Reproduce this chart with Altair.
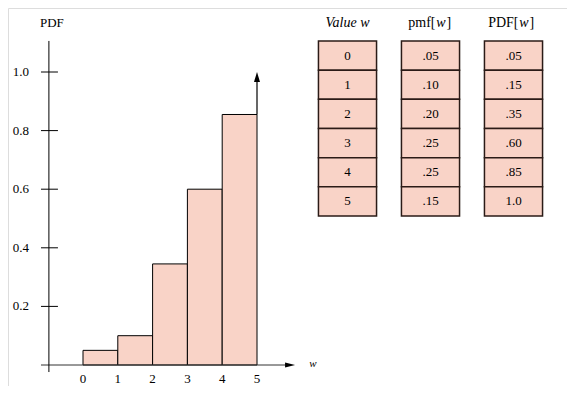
import altair as alt
import pandas as pd

# ---- data ----
w_values = [0, 1, 2, 3, 4, 5]
bar_heights = [0.05, 0.10, 0.345, 0.60, 0.855]
arrow_top = 1.0
y_ticks = [0.2, 0.4, 0.6, 0.8, 1.0]
y_tick_labels = ["0.2", "0.4", "0.6", "0.8", "1.0"]
x_tick_labels = ["0", "1", "2", "3", "4", "5"]
value_labels = ["0", "1", "2", "3", "4", "5"]
pmf_labels = [".05", ".10", ".20", ".25", ".25", ".15"]
pdf_labels = [".05", ".15", ".35", ".60", ".85", "1.0"]
header_prefix = ["pmf[", "PDF["]

W, H = 559, 378
FONT = "Liberation Serif"
FILL = "#f9d3c7"
EDGE = "#2b1b17"

# plot scales (w units / PDF units)
xs = alt.Scale(domain=[-75 / 34.8, (W - 75) / 34.8], nice=False, zero=False)
ys = alt.Scale(domain=[-(H - 357) / 293, 357 / 293], nice=False, zero=False)
# table scales (column / row index)
tx = alt.Scale(domain=[-339.5 / 83, (W - 339.5) / 83], nice=False, zero=False)
ty = alt.Scale(domain=[-33 / 29.17, (H - 33) / 29.17], nice=False, zero=False, reverse=True)


def X(f):
    return alt.X(f, type="quantitative", scale=xs, axis=None)


def Y(f):
    return alt.Y(f, type="quantitative", scale=ys, axis=None)


def TX(f):
    return alt.X(f, type="quantitative", scale=tx, axis=None)


def TY(f):
    return alt.Y(f, type="quantitative", scale=ty, axis=None)


bars_df = pd.DataFrame({
    "x": w_values[:5],
    "x2": [w + 1 for w in w_values[:5]],
    "y0": [0] * 5,
    "h": bar_heights,
})
bars = alt.Chart(bars_df).mark_rect(fill=FILL, stroke="black", strokeWidth=1).encode(
    x=X("x"), x2="x2", y=Y("y0"), y2="h")

# vertical arrow at w = 5
arr_df = pd.DataFrame({"x": [w_values[-1]], "y": [bar_heights[-1]], "y2": [arrow_top - 0.02]})
arr_line = alt.Chart(arr_df).mark_rule(color="black", strokeWidth=1.2).encode(
    x=X("x"), y=Y("y"), y2="y2")
arr_head = alt.Chart(pd.DataFrame({"x": [w_values[-1]], "y": [arrow_top - 0.017]})).mark_point(
    shape="M0,-1L-0.6,1L0.6,1Z", size=100, filled=True, color="black", opacity=1).encode(
    x=X("x"), y=Y("y"))

# x axis with arrow
xaxis = alt.Chart(pd.DataFrame({"x": [-1.207], "x2": [5.9], "y": [0]})).mark_rule(
    color="#333", strokeWidth=1).encode(x=X("x"), x2="x2", y=Y("y"))
xhead = alt.Chart(pd.DataFrame({"x": [5.95], "y": [0]})).mark_point(
    shape="M1,0L-1,-0.5L-1,0.5Z", size=100, filled=True, color="black", opacity=1).encode(
    x=X("x"), y=Y("y"))

# y axis
yaxis = alt.Chart(pd.DataFrame({"x": [-0.98], "y": [-0.024], "y2": [1.106]})).mark_rule(
    color="black", strokeWidth=1).encode(x=X("x"), y=Y("y"), y2="y2")
ticks_df = pd.DataFrame({"y": y_ticks, "x": [-1.207] * 5, "x2": [-0.72] * 5, "lab": y_tick_labels})
yticks = alt.Chart(ticks_df).mark_rule(color="black", strokeWidth=1).encode(
    x=X("x"), x2="x2", y=Y("y"))
ylabels = alt.Chart(ticks_df).mark_text(
    font=FONT, fontSize=13, align="right", baseline="middle", dx=-12, color="black").encode(
    x=X("x"), y=Y("y"), text="lab:N")

xlab_df = pd.DataFrame({"x": w_values, "y": [-0.062] * 6, "lab": x_tick_labels})
xlabels = alt.Chart(xlab_df).mark_text(
    font=FONT, fontSize=13, align="center", baseline="alphabetic", color="black").encode(
    x=X("x"), y=Y("y"), text="lab:N")

titles_df = pd.DataFrame({"x": [-0.98], "y": [1.153], "lab": ["PDF"]})
ytitle = alt.Chart(titles_df).mark_text(
    font=FONT, fontSize=13, align="center", baseline="alphabetic", dx=3, color="black").encode(
    x=X("x"), y=Y("y"), text="lab:N")
wtitle = alt.Chart(pd.DataFrame({"x": [6.61], "y": [-0.007], "lab": ["w"]})).mark_text(
    font=FONT, fontSize=11, fontStyle="italic", align="center", baseline="alphabetic",
    color="black").encode(x=X("x"), y=Y("y"), text="lab:N")

# ---- table ----
rows = []
for c, labs in enumerate([value_labels, pmf_labels, pdf_labels]):
    for r, lab in enumerate(labs):
        rows.append({"c": c, "cl": c - 0.35, "cr": c + 0.35, "r": r, "r2": r + 1,
                     "rm": r + 0.5, "lab": lab})
cells_df = pd.DataFrame(rows)
cells = alt.Chart(cells_df).mark_rect(fill=FILL, stroke=EDGE, strokeWidth=1.5).encode(
    x=TX("cl"), x2="cr", y=TY("r"), y2="r2")
cell_text = alt.Chart(cells_df).mark_text(
    font=FONT, fontSize=13, align="center", baseline="middle", color="black").encode(
    x=TX("c"), y=TY("rm"), text="lab:N")

h0 = alt.Chart(pd.DataFrame({"c": [0], "r": [-0.48], "lab": ["Value w"]})).mark_text(
    font=FONT, fontSize=14, fontStyle="italic", align="center", baseline="alphabetic",
    color="black").encode(x=TX("c"), y=TY("r"), text="lab:N")
hdr_df = pd.DataFrame({"c": [1, 2], "r": [-0.48, -0.48], "pre": header_prefix,
                       "w": ["w", "w"], "post": ["]", "]"]})
h_pre = alt.Chart(hdr_df).mark_text(
    font=FONT, fontSize=14, align="right", baseline="alphabetic", dx=5, color="black").encode(
    x=TX("c"), y=TY("r"), text="pre:N")
h_w = alt.Chart(hdr_df).mark_text(
    font=FONT, fontSize=14, fontStyle="italic", align="center", baseline="alphabetic",
    dx=10.5, color="black").encode(x=TX("c"), y=TY("r"), text="w:N")
h_post = alt.Chart(hdr_df).mark_text(
    font=FONT, fontSize=14, align="left", baseline="alphabetic", dx=16, color="black").encode(
    x=TX("c"), y=TY("r"), text="post:N")

chart = alt.layer(
    bars, arr_line, arr_head, xaxis, xhead, yaxis, yticks, ylabels, xlabels, ytitle, wtitle,
    cells, cell_text, h0, h_pre, h_w, h_post
).resolve_scale(x="independent", y="independent").properties(
    width=W, height=H, padding=0, autosize=alt.AutoSizeParams(type="none")
).configure_view(stroke=None).configure(background="white")

chart.save("out.html", embed_options={"renderer": "svg", "actions": False})
